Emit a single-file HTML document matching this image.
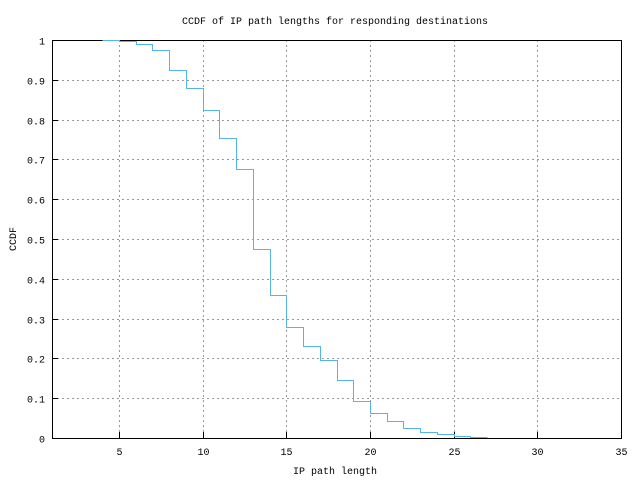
<!DOCTYPE html>
<html><head><style>
body{margin:0;background:#fff;}
svg text{font-family:"Liberation Mono","DejaVu Sans Mono",monospace;font-size:10px;fill:#000;}
</style></head><body>
<svg id="s" width="640" height="480" xmlns="http://www.w3.org/2000/svg"></svg>
<script>
const s=document.getElementById('s');
const L=52,R=621,T=40,B=438;
const X=v=>Math.round(L+(v-1)*(R-L)/34)+.5, Y=v=>Math.round(B-(B-T)*v)+.5;
let h='';
h+=`<text x="335" y="24" text-anchor="middle">CCDF of IP path lengths for responding destinations</text>`;
for(let i=0;i<=10;i++){const y=Y(i/10);
 if(i>0&&i<10)h+=`<line x1="${L}" x2="${R}" y1="${y}" y2="${y}" stroke="#999" stroke-dasharray="2,3"/>`;
 h+=`<line x1="${L}" x2="${L+6}" y1="${y}" y2="${y}" stroke="#000"/>`;
 h+=`<text x="${L-7}" y="${y+4}" text-anchor="end">${i==0?'0':i==10?'1':'0.'+i}</text>`;}
for(let v=5;v<=35;v+=5){const x=X(v);
 if(v<35)h+=`<line y1="${T}" y2="${B}" x1="${x}" x2="${x}" stroke="#999" stroke-dasharray="2,3"/>`;
 h+=`<line y1="${B}" y2="${B-6}" x1="${x}" x2="${x}" stroke="#000"/>`;
 h+=`<text x="${x}" y="${B+17}" text-anchor="middle">${v}</text>`;}
h+=`<rect x="${L+.5}" y="${T+.5}" width="${R-L}" height="${B-T}" fill="none" stroke="#000"/>`;
const d=[[4,1],[5,.998],[6,.99],[7,.975],[8,.925],[9,.88],[10,.825],[11,.755],[12,.675],[13,.474],[14,.36],[15,.28],[16,.232],[17,.195],[18,.145],[19,.093],[20,.062],[21,.043],[22,.025],[23,.015],[24,.011],[25,.005],[26,.002],[27,.002]];
let p=`M${X(4)},${Y(1)}`;
for(let i=1;i<d.length;i++){p+=` H${X(d[i][0])} V${Y(d[i][1])}`;}
h+=`<path d="${p}" fill="none" stroke="#56b4e9" stroke-width="1"/>`;
h+=`<text x="335" y="474" text-anchor="middle">IP path length</text>`;
h+=`<text transform="translate(16,239) rotate(-90)" text-anchor="middle">CCDF</text>`;
s.innerHTML=h;
</script>
</body></html>
